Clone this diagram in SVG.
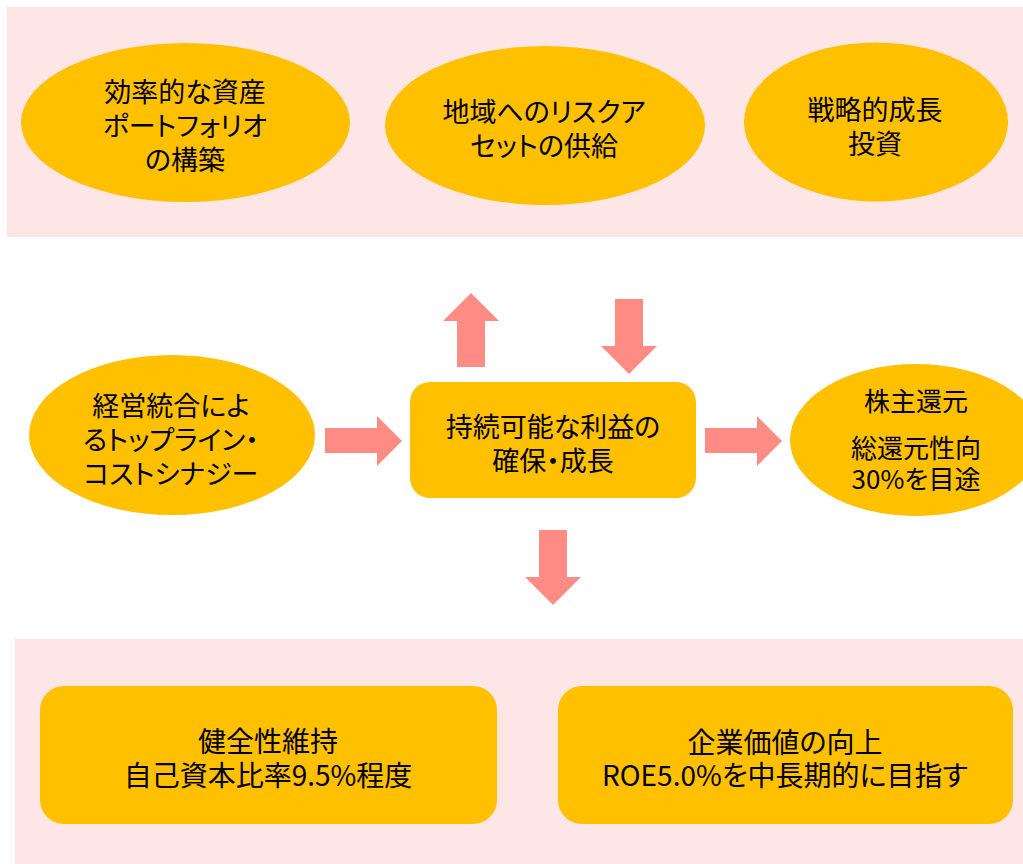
<svg xmlns="http://www.w3.org/2000/svg" width="1023" height="864" viewBox="0 0 1023 864">
<style>
.panel{fill:#FFE6E6}
.node{fill:#FFC000}
.arrow{fill:#FF8C84}
text{font-family:"Noto Sans CJK JP","Noto Sans",sans-serif;fill:#000;text-anchor:middle;dominant-baseline:central;font-feature-settings:"palt";}
.t27{font-size:27px}
.t26{font-size:26px}
.t28{font-size:28px}
</style>
<rect width="1023" height="864" fill="#FFFFFF"/>
<rect id="top-panel" class="panel" x="7" y="7" width="1016" height="230"/>
<rect id="bottom-panel" class="panel" x="15" y="639" width="1008" height="225"/>

<g id="node-portfolio">
<ellipse class="node" cx="185.5" cy="122.5" rx="164.5" ry="79.5"/>
<text class="t27" x="185" y="90">効率的な資産</text>
<text class="t27" x="185" y="124">ポートフォリオ</text>
<text class="t27" x="185" y="158">の構築</text>
</g>
<g id="node-risk">
<ellipse class="node" cx="545" cy="125.5" rx="160" ry="79.5"/>
<text class="t27" x="544" y="110">地域へのリスクア</text>
<text class="t27" x="544" y="144">セットの供給</text>
</g>
<g id="node-invest">
<ellipse class="node" cx="876" cy="122" rx="132" ry="79.5"/>
<text class="t27" x="875" y="108">戦略的成長</text>
<text class="t27" x="875" y="142">投資</text>
</g>
<g id="node-synergy">
<ellipse class="node" cx="172" cy="435" rx="143" ry="80"/>
<text class="t27" x="171" y="404">経営統合によ</text>
<text class="t27" x="171" y="438">るトップライン・</text>
<text class="t27" x="171" y="472">コストシナジー</text>
</g>
<g id="node-profit">
<rect class="node" x="410" y="382" width="286" height="116" rx="20" ry="20"/>
<text class="t27" x="553" y="425">持続可能な利益の</text>
<text class="t27" x="553" y="459">確保・成長</text>
</g>
<g id="node-return">
<ellipse class="node" cx="916" cy="440" rx="126" ry="76"/>
<text class="t26" x="916" y="399">株主還元</text>
<text class="t26" x="916" y="446">総還元性向</text>
<text class="t26" x="916" y="477">30%を目途</text>
</g>
<g id="node-soundness">
<rect class="node" x="40" y="686" width="457" height="138" rx="24" ry="24"/>
<text class="t28" x="268" y="740">健全性維持</text>
<text class="t28" x="268" y="774">自己資本比率9.5%程度</text>
</g>
<g id="node-value">
<rect class="node" x="558" y="686" width="455" height="138" rx="24" ry="24"/>
<text class="t28" x="785" y="741">企業価値の向上</text>
<text class="t28" x="785" y="774">ROE5.0%を中長期的に目指す</text>
</g>

<g id="connectors">
<polygon class="arrow" points="457,367 457,321 443,321 471,293 499,321 485,321 485,367"/>
<polygon class="arrow" points="615,299 643,299 643,346 657,346 629,374 601,346 615,346"/>
<polygon class="arrow" points="325,428 377,428 377,416 402,441 377,466 377,453 325,453"/>
<polygon class="arrow" points="705,428 757,428 757,416 782,441 757,466 757,453 705,453"/>
<polygon class="arrow" points="539,530 567,530 567,577 581,577 553,605 525,577 539,577"/>
</g>
</svg>
